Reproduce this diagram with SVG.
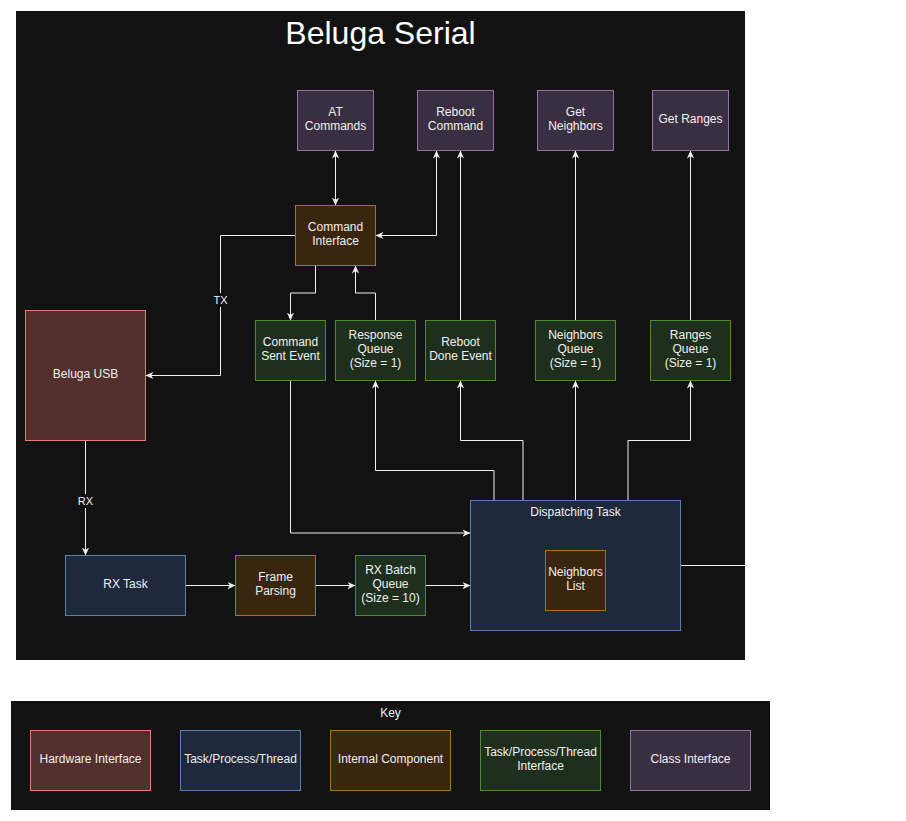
<svg xmlns="http://www.w3.org/2000/svg" width="906" height="821" viewBox="0 0 906 821">
<style>
text{font-family:"Liberation Sans",Arial,Helvetica,sans-serif;font-size:12px;fill:#F0F0F0;text-anchor:middle}
.lbl{font-size:11px}
.hw{fill:#532F2E;stroke:#E07F7A}
.task{fill:#1E293B;stroke:#5B7FB3}
.int{fill:#3A250E;stroke:#A9740F}
.tif{fill:#1F2F1E;stroke:#4E8B2E}
.cls{fill:#3A2F42;stroke:#9572A5}
rect{stroke-width:1}
.e{fill:none;stroke:#F0F0F0;stroke-width:1}
.a{marker-end:url(#arr)}
.b{marker-start:url(#arr);marker-end:url(#arr)}
</style>
<defs>
<marker id="arr" viewBox="0 0 10 10" refX="10" refY="5" markerWidth="8" markerHeight="8" markerUnits="userSpaceOnUse" orient="auto-start-reverse">
<path d="M0,0.5 L10,5 L0,9.5 L3,5 Z" fill="#F0F0F0"/>
</marker>
</defs>
<rect x="0" y="0" width="906" height="821" fill="#FFFFFF" stroke="none"/>
<rect x="16" y="11" width="729" height="649" fill="#121212" stroke="none"/>
<text x="380.5" y="44" style="font-size:32px;fill:#FFFFFF">Beluga Serial</text>

<g id="connectors">
<path class="e b" d="M335.5,150.5 L335.5,205.5"/>
<path class="e b" d="M375.5,235.5 L436.5,235.5 L436.5,150.5"/>
<path class="e a" d="M460.5,320.5 L460.5,150.5"/>
<path class="e a" d="M295.5,235.5 L220.5,235.5 L220.5,375.5 L145.5,375.5"/>
<rect x="211" y="293" width="19" height="14" fill="#121212" stroke="none"/>
<text class="lbl" x="220.5" y="304">TX</text>
<path class="e a" d="M315.5,265.5 L315.5,293 L290.5,293 L290.5,320.5"/>
<path class="e a" d="M375.5,320.5 L375.5,293 L355.5,293 L355.5,265.5"/>
<path class="e a" d="M85.5,440.5 L85.5,555.5"/>
<rect x="76" y="494" width="19" height="14" fill="#121212" stroke="none"/>
<text class="lbl" x="85.5" y="505">RX</text>
<path class="e a" d="M185.5,585.5 L235.5,585.5"/>
<path class="e a" d="M315.5,585.5 L355.5,585.5"/>
<path class="e a" d="M425.5,585.5 L470.5,585.5"/>
<path class="e a" d="M290.5,380.5 L290.5,533 L470.5,533"/>
<path class="e a" d="M494,500.5 L494,470.5 L375.5,470.5 L375.5,380.5"/>
<path class="e a" d="M523,500.5 L523,440.5 L460.5,440.5 L460.5,380.5"/>
<path class="e a" d="M575.5,500.5 L575.5,380.5"/>
<path class="e a" d="M628,500.5 L628,440.5 L690.5,440.5 L690.5,380.5"/>
<path class="e a" d="M575.5,320.5 L575.5,150.5"/>
<path class="e a" d="M690.5,320.5 L690.5,150.5"/>
<path class="e" d="M680.5,565.5 L745,565.5"/>
</g>

<g id="at-commands"><rect class="cls" x="297.5" y="90.5" width="76" height="60"/><text x="335.5" y="115.5">AT</text><text x="335.5" y="129.5">Commands</text></g>
<g id="reboot-command"><rect class="cls" x="417.5" y="90.5" width="76" height="60"/><text x="455.5" y="115.5">Reboot</text><text x="455.5" y="129.5">Command</text></g>
<g id="get-neighbors"><rect class="cls" x="537.5" y="90.5" width="76" height="60"/><text x="575.5" y="115.5">Get</text><text x="575.5" y="129.5">Neighbors</text></g>
<g id="get-ranges"><rect class="cls" x="652.5" y="90.5" width="76" height="60"/><text x="690.5" y="122.5">Get Ranges</text></g>

<g id="command-interface"><rect class="int" x="295.5" y="205.5" width="80" height="60"/><text x="335.5" y="230.5">Command</text><text x="335.5" y="244.5">Interface</text></g>

<g id="command-sent-event"><rect class="tif" x="255.5" y="320.5" width="70" height="60"/><text x="290.5" y="345.5">Command</text><text x="290.5" y="359.5">Sent Event</text></g>
<g id="response-queue"><rect class="tif" x="335.5" y="320.5" width="80" height="60"/><text x="375.5" y="338.5">Response</text><text x="375.5" y="352.5">Queue</text><text x="375.5" y="366.5">(Size = 1)</text></g>
<g id="reboot-done-event"><rect class="tif" x="425.5" y="320.5" width="70" height="60"/><text x="460.5" y="345.5">Reboot</text><text x="460.5" y="359.5">Done Event</text></g>
<g id="neighbors-queue"><rect class="tif" x="535.5" y="320.5" width="80" height="60"/><text x="575.5" y="338.5">Neighbors</text><text x="575.5" y="352.5">Queue</text><text x="575.5" y="366.5">(Size = 1)</text></g>
<g id="ranges-queue"><rect class="tif" x="650.5" y="320.5" width="80" height="60"/><text x="690.5" y="338.5">Ranges</text><text x="690.5" y="352.5">Queue</text><text x="690.5" y="366.5">(Size = 1)</text></g>

<g id="beluga-usb"><rect class="hw" x="25.5" y="310.5" width="120" height="130"/><text x="85.5" y="377.5">Beluga USB</text></g>
<g id="rx-task"><rect class="task" x="65.5" y="555.5" width="120" height="60"/><text x="125.5" y="587.5">RX Task</text></g>
<g id="frame-parsing"><rect class="int" x="235.5" y="555.5" width="80" height="60"/><text x="275.5" y="580.5">Frame</text><text x="275.5" y="594.5">Parsing</text></g>
<g id="rx-batch-queue"><rect class="tif" x="355.5" y="555.5" width="70" height="60"/><text x="390.5" y="573.5">RX Batch</text><text x="390.5" y="587.5">Queue</text><text x="390.5" y="601.5">(Size = 10)</text></g>
<g id="dispatching-task"><rect class="task" x="470.5" y="500.5" width="210" height="130"/><text x="575.5" y="516">Dispatching Task</text></g>
<g id="neighbors-list"><rect class="int" x="545.5" y="550.5" width="60" height="60"/><text x="575.5" y="575.5">Neighbors</text><text x="575.5" y="589.5">List</text></g>

<g id="key">
<rect x="11" y="701" width="759" height="109" fill="#121212" stroke="none"/>
<text x="390.5" y="717">Key</text>
<g id="key-hardware"><rect class="hw" x="30.5" y="730.5" width="120" height="60"/><text x="90.5" y="762.5">Hardware Interface</text></g>
<g id="key-task"><rect class="task" x="180.5" y="730.5" width="120" height="60"/><text x="240.5" y="762.5">Task/Process/Thread</text></g>
<g id="key-internal"><rect class="int" x="330.5" y="730.5" width="120" height="60"/><text x="390.5" y="762.5">Internal Component</text></g>
<g id="key-tpt-interface"><rect class="tif" x="480.5" y="730.5" width="120" height="60"/><text x="540.5" y="755.5">Task/Process/Thread</text><text x="540.5" y="769.5">Interface</text></g>
<g id="key-class"><rect class="cls" x="630.5" y="730.5" width="120" height="60"/><text x="690.5" y="762.5">Class Interface</text></g>
</g>
</svg>
